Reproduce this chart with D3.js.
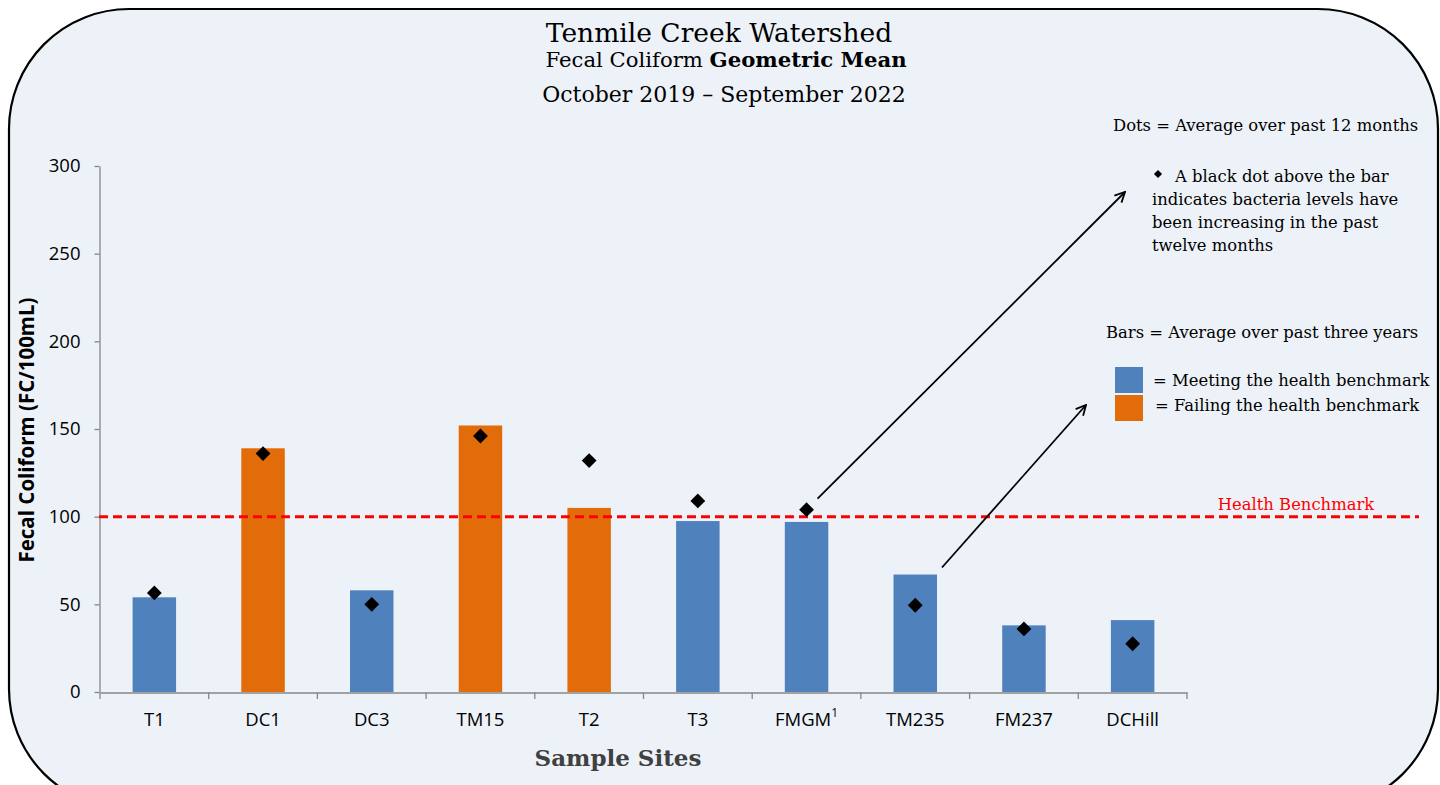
<!DOCTYPE html>
<html>
<head>
<meta charset="utf-8">
<script src="https://cdn.jsdelivr.net/npm/d3@7/dist/d3.min.js"></script>
<style>
  html, body { margin: 0; padding: 0; background: #ffffff; }
  svg { display: block; }
</style>
</head>
<body>
<script>
// ---- Data ----
const sites = ["T1", "DC1", "DC3", "TM15", "T2", "T3", "FMGM", "TM235", "FM237", "DCHill"];
const threeYearMean = [54, 139, 58, 152, 105, 97.5, 97, 67, 38, 41];
const twelveMonthMean = [56.5, 136, 50, 146, 132, 109, 104, 49.5, 36, 27.5];
const yTicks = [0, 50, 100, 150, 200, 250, 300];
const benchmark = 100;
const titleLines = ["Tenmile Creek Watershed", "Fecal Coliform ", "October 2019 \u2013 September 2022"];

const W = 1440, H = 785;
const serif = "'DejaVu Serif', 'Liberation Serif', serif";
const sans = "'Open Sans', 'Noto Sans', sans-serif";
const blue = "#4F81BD", orange = "#E36C0A";

const svg = d3.select("body").append("svg").attr("width", W).attr("height", H);
svg.append("rect").attr("width", W).attr("height", H).attr("fill", "#ffffff");
svg.append("rect")
  .attr("x", 9).attr("y", 9).attr("width", 1429).attr("height", 800)
  .attr("rx", 120).attr("ry", 120)
  .attr("fill", "#EDF2F8").attr("stroke", "#000").attr("stroke-width", 2.2);

// ---- Scales ----
const x = d3.scaleBand().domain(sites).range([100, 1187]).paddingInner(0.6).paddingOuter(0.3);
const y = d3.scaleLinear().domain([0, 300]).range([692, 166]);

// ---- Title ----
const t = svg.append("g").attr("text-anchor", "middle").attr("fill", "#000");
t.append("text").attr("x", 719).attr("y", 42).attr("font-family", serif).attr("font-size", 26.5).text(titleLines[0]);
const t2 = t.append("text").attr("x", 726).attr("y", 67).attr("font-family", serif).attr("font-size", 21.2);
t2.append("tspan").text(titleLines[1]);
t2.append("tspan").attr("font-weight", "bold").text("Geometric Mean");
t.append("text").attr("x", 724).attr("y", 102).attr("font-family", serif).attr("font-size", 22).text(titleLines[2]);

// ---- Y axis ----
const yAxis = svg.append("g").attr("transform", "translate(99.5,0)")
  .call(d3.axisLeft(y).tickValues(yTicks).tickSize(5).tickPadding(14).tickSizeOuter(0));
yAxis.select(".domain").attr("stroke", "#868686").attr("stroke-width", 1.3);
yAxis.selectAll(".tick line").attr("stroke", "#868686").attr("stroke-width", 1.3);
yAxis.selectAll(".tick text").attr("font-family", sans).attr("font-size", 18.5).attr("fill", "#000");

// ---- X axis ----
const xAxis = svg.append("g").attr("transform", "translate(0,692.5)")
  .call(d3.axisBottom(x).tickSize(0).tickPadding(20).tickSizeOuter(0));
xAxis.select(".domain").attr("stroke", "#868686").attr("stroke-width", 1.3);
xAxis.selectAll(".tick text").attr("font-family", sans).attr("font-size", 18.5).attr("fill", "#000")
  .each(function(d) {
    if (d === "FMGM") {
      d3.select(this).append("tspan").attr("font-size", 12).attr("dy", -9).text("1");
    }
  });
const bounds = d3.range(sites.length + 1).map(i => x.range()[0] + i * x.step());
svg.append("g").selectAll("line").data(bounds).join("line")
  .attr("x1", d => d).attr("x2", d => d).attr("y1", 692.5).attr("y2", 699)
  .attr("stroke", "#868686").attr("stroke-width", 1.3);

// ---- Bars ----
svg.append("g").selectAll("rect").data(sites).join("rect")
  .attr("x", d => x(d))
  .attr("width", x.bandwidth())
  .attr("y", (d, i) => y(threeYearMean[i]))
  .attr("height", (d, i) => y(0) - y(threeYearMean[i]))
  .attr("fill", (d, i) => threeYearMean[i] > benchmark ? orange : blue);

// ---- Benchmark line ----
svg.append("line")
  .attr("x1", 99).attr("x2", 1419).attr("y1", y(benchmark)).attr("y2", y(benchmark))
  .attr("stroke", "#FF0000").attr("stroke-width", 3).attr("stroke-dasharray", "9,5");
svg.append("text").attr("x", 1296).attr("y", y(benchmark) - 7).attr("text-anchor", "middle")
  .attr("font-family", serif).attr("font-size", 16.4).attr("fill", "#FF0000").text("Health Benchmark");

// ---- Dots ----
const diamond = d3.symbol().type(d3.symbolSquare).size(110);
svg.append("g").selectAll("path").data(sites).join("path")
  .attr("d", diamond)
  .attr("transform", (d, i) => `translate(${x(d) + x.bandwidth() / 2},${y(twelveMonthMean[i])}) rotate(45)`)
  .attr("fill", "#000");

// ---- Axis titles ----
svg.append("text").attr("transform", `translate(34,${(y(0) + y(300)) / 2 + 1}) rotate(-90)`)
  .attr("text-anchor", "middle").attr("font-family", sans).attr("font-weight", "bold").attr("font-size", 20.5)
  .attr("fill", "#000").text("Fecal Coliform (FC/100mL)");
svg.append("text").attr("x", 618).attr("y", 766).attr("text-anchor", "middle")
  .attr("font-family", serif).attr("font-weight", "bold").attr("font-size", 23).attr("fill", "#404040")
  .text("Sample Sites");

// ---- Legend / annotations ----
const lg = svg.append("g").attr("font-family", serif).attr("font-size", 16.4).attr("fill", "#000");
lg.append("text").attr("x", 1113).attr("y", 131).text("Dots = Average over past 12 months");
lg.append("path").attr("d", d3.symbol().type(d3.symbolSquare).size(34))
  .attr("transform", "translate(1158,174) rotate(45)").attr("fill", "#000");
const noteLines = ["A black dot above the bar", "indicates bacteria levels have", "been increasing in the past", "twelve months"];
lg.selectAll("text.note").data(noteLines).join("text").attr("class", "note")
  .attr("x", (d, i) => i === 0 ? 1175 : 1152).attr("y", (d, i) => 182 + i * 23).text(d => d);
lg.append("text").attr("x", 1106).attr("y", 338).text("Bars = Average over past three years");
lg.append("rect").attr("x", 1115).attr("y", 367).attr("width", 28).attr("height", 26).attr("fill", blue);
lg.append("rect").attr("x", 1115).attr("y", 395).attr("width", 28).attr("height", 26).attr("fill", orange);
lg.append("text").attr("x", 1153).attr("y", 386).text("= Meeting the health benchmark");
lg.append("text").attr("x", 1155).attr("y", 411).text("= Failing the health benchmark");

// ---- Arrows ----
const defs = svg.append("defs");
defs.append("marker").attr("id", "arr").attr("viewBox", "0 0 12 12").attr("refX", 11).attr("refY", 6)
  .attr("markerWidth", 12).attr("markerHeight", 12).attr("markerUnits", "userSpaceOnUse").attr("orient", "auto")
  .append("path").attr("d", "M1,1 L11,6 L1,11").attr("fill", "none").attr("stroke", "#000").attr("stroke-width", 1.8);
const iF = sites.indexOf("FMGM"), iT = sites.indexOf("TM235");
svg.append("line")
  .attr("x1", x("FMGM") + x.bandwidth() / 2 + 11).attr("y1", y(twelveMonthMean[iF]) - 11)
  .attr("x2", 1125).attr("y2", 192)
  .attr("stroke", "#000").attr("stroke-width", 1.8).attr("marker-end", "url(#arr)");
svg.append("line")
  .attr("x1", x("TM235") + x.bandwidth() + 5).attr("y1", y(threeYearMean[iT]) - 7)
  .attr("x2", 1086).attr("y2", 405)
  .attr("stroke", "#000").attr("stroke-width", 1.8).attr("marker-end", "url(#arr)");
</script>
</body>
</html>
